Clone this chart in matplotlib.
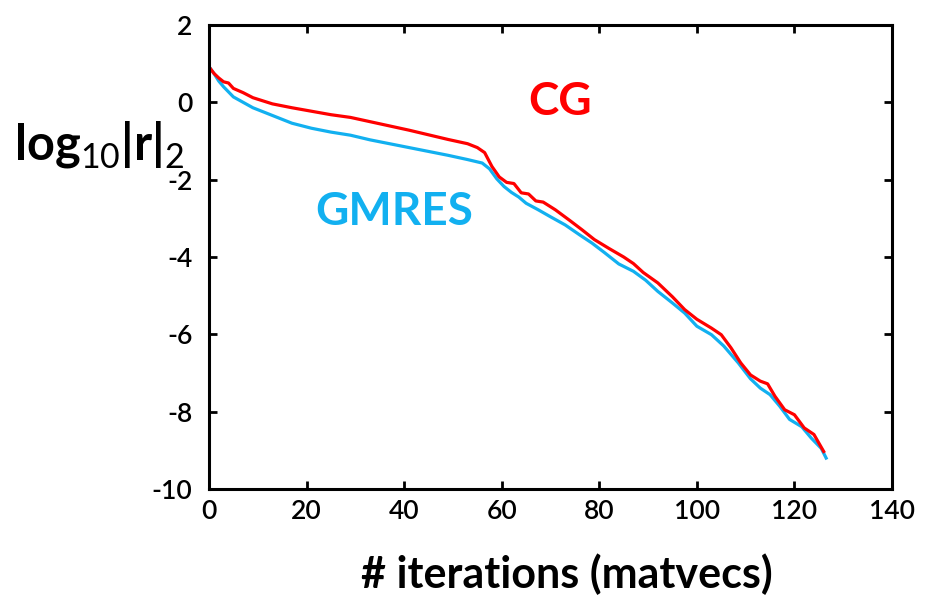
import numpy as np
import matplotlib.pyplot as plt

plt.rcParams['font.family'] = ['Lato', 'DejaVu Sans']
plt.rcParams['mathtext.fontset'] = 'custom'
plt.rcParams['mathtext.rm'] = 'Lato'
plt.rcParams['mathtext.bf'] = 'Lato:bold'
plt.rcParams['axes.unicode_minus'] = False

# residual history (iteration, log10 residual)
cg_iter = [0, 1, 2, 3, 4, 5, 7, 9, 13, 17, 21, 25, 29, 33, 37, 41, 45, 49, 53, 55,
           56.5, 58, 59.5, 61, 62.5, 64, 65.5, 67, 68.5, 71, 74, 76.5, 79, 82, 85,
           87, 89, 92, 95, 97.5, 100, 103, 105, 107, 109, 111, 113, 114.5, 116,
           118, 120, 122, 124, 126]
cg_res = [0.92, 0.75, 0.63, 0.53, 0.50, 0.36, 0.25, 0.12, -0.04, -0.14, -0.23,
          -0.32, -0.39, -0.50, -0.61, -0.72, -0.84, -0.96, -1.07, -1.17, -1.30,
          -1.66, -1.93, -2.07, -2.10, -2.34, -2.37, -2.55, -2.58, -2.78, -3.06,
          -3.30, -3.55, -3.78, -4.00, -4.17, -4.40, -4.67, -5.03, -5.36, -5.61,
          -5.84, -6.01, -6.35, -6.74, -7.05, -7.21, -7.28, -7.60, -7.95, -8.08,
          -8.42, -8.59, -9.03]

gm_iter = [0, 1, 2, 3, 5, 7, 9, 13, 17, 21, 25, 29, 33, 37, 41, 45, 49, 53, 56,
           57.5, 59, 60.5, 62, 63.5, 65, 67.5, 70, 73, 76, 78.5, 81, 84, 87, 89.5,
           92, 95, 97.5, 100, 103, 105.5, 108.5, 111, 113, 115, 117, 119, 121.5,
           123.5, 125.5, 126.5]
gm_res = [0.92, 0.75, 0.55, 0.40, 0.14, 0.00, -0.14, -0.34, -0.54, -0.67, -0.77,
          -0.85, -0.97, -1.07, -1.17, -1.27, -1.37, -1.48, -1.57, -1.72, -1.98,
          -2.18, -2.33, -2.45, -2.61, -2.78, -2.96, -3.17, -3.43, -3.64, -3.88,
          -4.18, -4.37, -4.60, -4.89, -5.19, -5.45, -5.79, -6.01, -6.30, -6.74,
          -7.15, -7.39, -7.56, -7.86, -8.20, -8.39, -8.69, -8.95, -9.20]

xticks = [0, 20, 40, 60, 80, 100, 120, 140]
yticks = [-10, -8, -6, -4, -2, 0, 2]

red = '#ff0000'
blue = '#12b0f0'

fig = plt.figure(figsize=(9.31, 5.96), dpi=100)
ax = fig.add_axes([209/931, 1-489/596, (892-209)/931, (489-25)/596])

ax.plot(gm_iter, gm_res, color=blue, lw=2.3)
ax.plot(cg_iter, cg_res, color=red, lw=2.3)

ax.set_xlim(0, 140)
ax.set_ylim(-10, 2)
ax.set_xticks(xticks)
ax.set_yticks(yticks)
ax.tick_params(direction='in', length=6, width=2, labelsize=19,
               top=True, right=True)
ax.tick_params(axis='y', pad=12)
ax.tick_params(axis='x', pad=7)
for lab in ax.get_xticklabels() + ax.get_yticklabels():
    lab.set_fontweight('semibold')
for s in ax.spines.values():
    s.set_linewidth(2.2)

ax.text(72, 0, 'CG', color=red, fontsize=33, fontweight='bold',
        ha='center', va='center')
ax.text(38, -2.83, 'GMRES', color=blue, fontsize=33, fontweight='bold',
        ha='center', va='center')

fig.text(14/931, 1-145/596, r'log$_{\rm 10}$|r|$_{\rm 2}$', fontsize=35,
         fontweight='bold', ha='left', va='center')
fig.text(567/931, 1-574/596, '# iterations (matvecs)', fontsize=31,
         fontweight='bold', ha='center', va='center')

fig.savefig('out.png', dpi=100)
